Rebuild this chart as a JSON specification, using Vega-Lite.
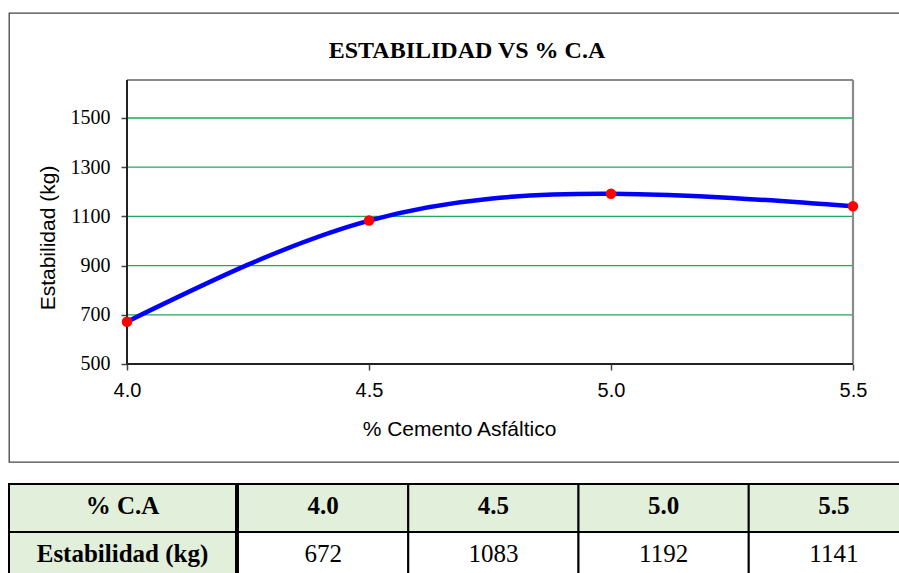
{
  "$schema": "https://vega.github.io/schema/vega-lite/v6.json",
  "padding": {"left": 8, "top": 12, "right": 0, "bottom": 0},
  "autosize": {"type": "pad"},
  "background": "white",
  "config": {"font": "Liberation Sans"},
  "datasets": {
    "pts": [
      {"ca": 4.0, "est": 672},
      {"ca": 4.5, "est": 1083},
      {"ca": 5.0, "est": 1192},
      {"ca": 5.5, "est": 1141}
    ],
    "grid": [{"g": 700}, {"g": 900}, {"g": 1100}, {"g": 1300}, {"g": 1500}],
    "one": [{}],
    "rowhead": [
      {"row": "h", "label": "% C.A"},
      {"row": "v", "label": "Estabilidad (kg)"}
    ]
  },
  "spacing": 20,
  "vconcat": [
    {
      "width": 900,
      "height": 449,
      "view": {"stroke": "#444", "strokeWidth": 1.3},
      "title": {
        "text": "ESTABILIDAD VS % C.A",
        "font": "Liberation Serif",
        "fontSize": 24,
        "fontWeight": "bold",
        "color": "#000",
        "anchor": "middle",
        "offset": -50,
        "dx": 8
      },
      "layer": [
        {
          "data": {"name": "grid"},
          "mark": {"type": "rule", "color": "#1DAA5A", "strokeWidth": 1.3},
          "encoding": {
            "y": {
              "field": "g",
              "type": "quantitative",
              "scale": {"domain": [101.63, 1926.8], "nice": false, "zero": false},
              "axis": {
                "values": [500, 700, 900, 1100, 1300, 1500],
                "format": "d",
                "offset": -118,
                "domain": false,
                "grid": false,
                "tickSize": 6,
                "tickColor": "#444",
                "tickWidth": 1.5,
                "labelFont": "Liberation Serif",
                "labelFontSize": 20,
                "labelColor": "#000",
                "labelPadding": 11,
                "labelFlush": false,
                "labelOverlap": false,
                "title": "Estabilidad (kg)",
                "titleFont": "Liberation Sans",
                "titleFontSize": 21,
                "titleFontWeight": "normal",
                "titleColor": "#000",
                "titlePadding": 12
              }
            },
            "x": {
              "datum": 4,
              "type": "quantitative",
              "scale": {"domain": [3.756198, 5.615702], "nice": false, "zero": false},
              "axis": {
                "values": [4, 4.5, 5, 5.5],
                "format": ".1f",
                "offset": -98,
                "domain": false,
                "grid": false,
                "tickSize": 6,
                "tickColor": "#444",
                "tickWidth": 1.5,
                "labelFont": "Liberation Sans",
                "labelFontSize": 20,
                "labelColor": "#000",
                "labelPadding": 10,
                "labelFlush": false,
                "labelOverlap": false,
                "title": "% Cemento Asfáltico",
                "titleFont": "Liberation Sans",
                "titleFontSize": 21,
                "titleFontWeight": "normal",
                "titleColor": "#000",
                "titlePadding": 18
              }
            },
            "x2": {"datum": 5.5}
          }
        },
        {
          "data": {"name": "one"},
          "mark": {"type": "rule", "color": "#8a8a8a", "strokeWidth": 2.2},
          "encoding": {"x": {"datum": 4}, "x2": {"datum": 5.5}, "y": {"datum": 1654.5}}
        },
        {
          "data": {"name": "one"},
          "mark": {"type": "rule", "color": "#8a8a8a", "strokeWidth": 2.2},
          "encoding": {"x": {"datum": 5.5}, "y": {"datum": 500}, "y2": {"datum": 1654.5}}
        },
        {
          "data": {"name": "one"},
          "mark": {"type": "rule", "color": "#222", "strokeWidth": 2},
          "encoding": {"x": {"datum": 4}, "y": {"datum": 500}, "y2": {"datum": 1654.5}}
        },
        {
          "data": {"name": "one"},
          "mark": {"type": "rule", "color": "#222", "strokeWidth": 2},
          "encoding": {"x": {"datum": 4}, "x2": {"datum": 5.5}, "y": {"datum": 500}}
        },
        {
          "data": {"name": "pts"},
          "mark": {"type": "line", "color": "#0000FF", "strokeWidth": 4.5, "interpolate": "natural"},
          "encoding": {
            "x": {"field": "ca", "type": "quantitative"},
            "y": {"field": "est", "type": "quantitative"}
          }
        },
        {
          "data": {"name": "pts"},
          "mark": {"type": "circle", "color": "#FF0000", "opacity": 1, "size": 110},
          "encoding": {
            "x": {"field": "ca", "type": "quantitative"},
            "y": {"field": "est", "type": "quantitative"}
          }
        }
      ]
    },
    {
      "spacing": 0,
      "hconcat": [
        {
          "width": 227,
          "height": 96,
          "view": {"stroke": null},
          "data": {"name": "rowhead"},
          "encoding": {
            "y": {
              "field": "row",
              "type": "nominal",
              "scale": {"domain": ["h", "v"], "paddingInner": 0, "paddingOuter": 0},
              "axis": null
            }
          },
          "layer": [
            {"mark": {"type": "rect", "fill": "#E2EFDA", "stroke": "#000", "strokeWidth": 2}},
            {
              "mark": {"type": "text", "font": "Liberation Serif", "fontSize": 25, "fontWeight": "bold", "color": "#000", "baseline": "middle", "dy": -2},
              "encoding": {"text": {"field": "label"}}
            }
          ]
        },
        {
          "width": 681,
          "height": 96,
          "view": {"stroke": null},
          "data": {"name": "pts"},
          "encoding": {
            "x": {
              "field": "ca",
              "type": "ordinal",
              "scale": {"paddingInner": 0, "paddingOuter": 0},
              "axis": null
            }
          },
          "layer": [
            {
              "mark": {"type": "rect", "fill": "#E2EFDA", "stroke": "#000", "strokeWidth": 2},
              "encoding": {"y": {"datum": "h", "type": "ordinal", "scale": {"domain": ["h", "v"], "paddingInner": 0, "paddingOuter": 0}, "axis": null}}
            },
            {
              "mark": {"type": "rect", "fill": "#FFFFFF", "stroke": "#000", "strokeWidth": 2},
              "encoding": {"y": {"datum": "v", "type": "ordinal"}}
            },
            {
              "mark": {"type": "text", "font": "Liberation Serif", "fontSize": 25, "fontWeight": "bold", "color": "#000", "baseline": "middle", "dy": -2},
              "encoding": {
                "y": {"datum": "h", "type": "ordinal"},
                "text": {"field": "ca", "type": "quantitative", "format": ".1f"}
              }
            },
            {
              "mark": {"type": "text", "font": "Liberation Serif", "fontSize": 25, "color": "#000", "baseline": "middle", "dy": -2},
              "encoding": {
                "y": {"datum": "v", "type": "ordinal"},
                "text": {"field": "est", "type": "quantitative"}
              }
            }
          ]
        }
      ]
    }
  ]
}
